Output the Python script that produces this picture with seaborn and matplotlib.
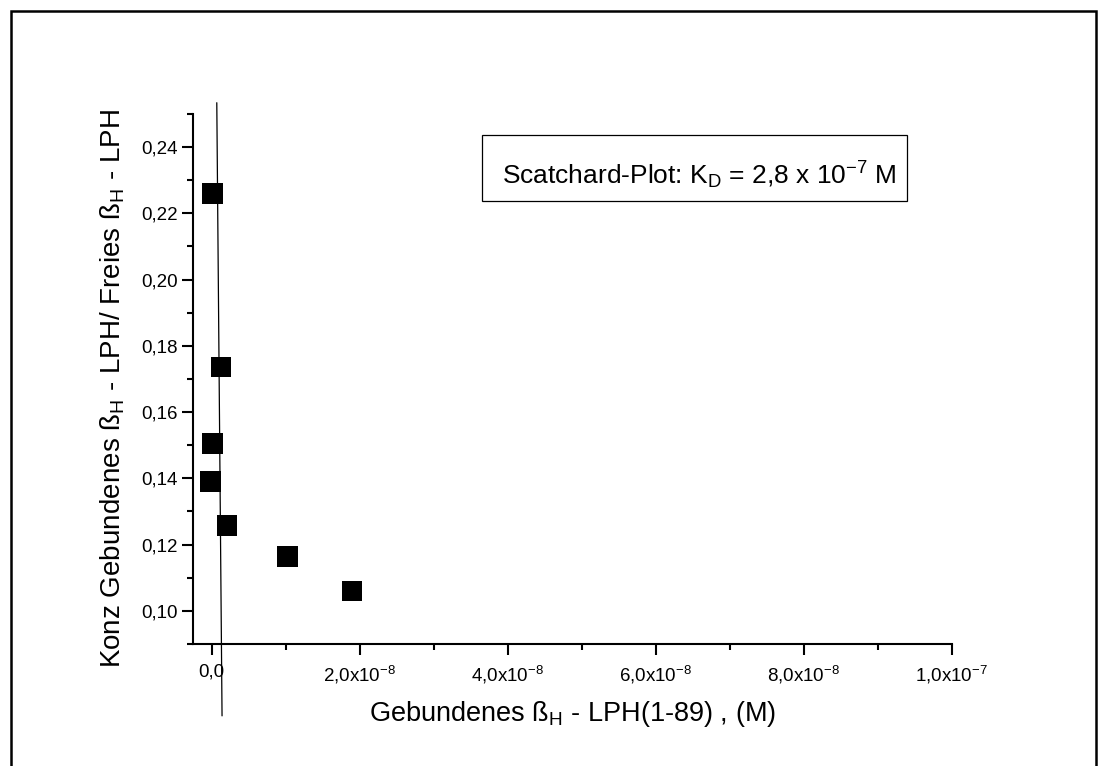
import pandas as pd
import matplotlib
matplotlib.use("Agg")
import matplotlib.pyplot as plt
import seaborn as sns
from matplotlib.patches import Rectangle
from matplotlib.ticker import MultipleLocator, FixedLocator, FixedFormatter

# data
bound = [8e-11, 1.26e-9, 8e-11, -1.4e-10, 2.07e-9, 1.02e-8, 1.896e-8]
ratio = [0.2261, 0.1736, 0.1505, 0.1391, 0.1257, 0.1165, 0.1060]
fit_x = [6.8e-10, 1.39e-9]
fit_y = [0.2534, 0.0683]
x_ticks = [0.0, 2e-8, 4e-8, 6e-8, 8e-8, 1e-7]
x_labels = ["0,0", "2,0x10$^{-8}$", "4,0x10$^{-8}$", "6,0x10$^{-8}$", "8,0x10$^{-8}$", "1,0x10$^{-7}$"]
y_ticks = [0.10, 0.12, 0.14, 0.16, 0.18, 0.20, 0.22, 0.24]
y_labels = ["0,10", "0,12", "0,14", "0,16", "0,18", "0,20", "0,22", "0,24"]

df = pd.DataFrame({"bound": bound, "ratio": ratio})

sns.set_style("ticks")
plt.rcParams["font.family"] = ["Liberation Sans", "DejaVu Sans"]
plt.rcParams["mathtext.fontset"] = "custom"
plt.rcParams["mathtext.rm"] = "Liberation Sans"
plt.rcParams["mathtext.it"] = "Liberation Sans"
plt.rcParams["mathtext.default"] = "regular"
plt.rcParams["text.color"] = "black"
plt.rcParams["axes.labelcolor"] = "black"

fig = plt.figure(figsize=(11.02, 7.66), dpi=100)
ax = fig.add_axes([0.1749, 0.1593, 0.6887, 0.6919])

sns.scatterplot(data=df, x="bound", y="ratio", marker="s", s=225, color="black",
                edgecolor="none", ax=ax, zorder=3, clip_on=False)
ax.plot(fit_x, fit_y, color="black", lw=0.9, clip_on=False, zorder=2)

ax.set_xlim(-2.57e-9, 1.0e-7)
ax.set_ylim(0.09, 0.25)
ax.xaxis.set_major_locator(FixedLocator(x_ticks))
ax.xaxis.set_major_formatter(FixedFormatter(x_labels))
ax.xaxis.set_minor_locator(MultipleLocator(1e-8))
ax.yaxis.set_major_locator(FixedLocator(y_ticks))
ax.yaxis.set_major_formatter(FixedFormatter(y_labels))
ax.yaxis.set_minor_locator(MultipleLocator(0.01))

for s in ["top", "right"]:
    ax.spines[s].set_visible(False)
for s in ["left", "bottom"]:
    ax.spines[s].set_linewidth(1.5)
    ax.spines[s].set_color("black")

ax.tick_params(which="major", direction="out", length=8, width=1.5, color="black",
               labelsize=13.5, labelcolor="black")
ax.tick_params(which="minor", direction="out", length=4.5, width=1.5, color="black")
ax.tick_params(axis="y", pad=3)
ax.tick_params(axis="x", pad=6)

ax.set_xlabel("Gebundenes ß$_{H}$ - LPH(1-89) , (M)", fontsize=19.5, labelpad=10)
ax.set_ylabel("Konz Gebundenes ß$_{H}$ - LPH/ Freies ß$_{H}$ - LPH", fontsize=20)
ax.yaxis.set_label_coords(-0.086, 0.482)

# annotation box
W, H = 1102, 766
fig.patches.append(Rectangle((481.7 / W, 1 - 201 / H), (907 - 481.7) / W, (201 - 135) / H,
                             transform=fig.transFigure, fill=False, lw=0.9, ec="black"))
fig.text(502 / W, 1 - 184 / H, "Scatchard-Plot: K$_{D}$ = 2,8 x 10$^{-7}$ M",
         fontsize=19, va="baseline", ha="left")

# outer frame
fig.patches.append(Rectangle((11 / W, -0.05), (1096 - 11) / W, 1.05 - 11 / H,
                             transform=fig.transFigure, fill=False, lw=1.8, ec="black",
                             clip_on=False))

fig.savefig("out.png", dpi=100)
